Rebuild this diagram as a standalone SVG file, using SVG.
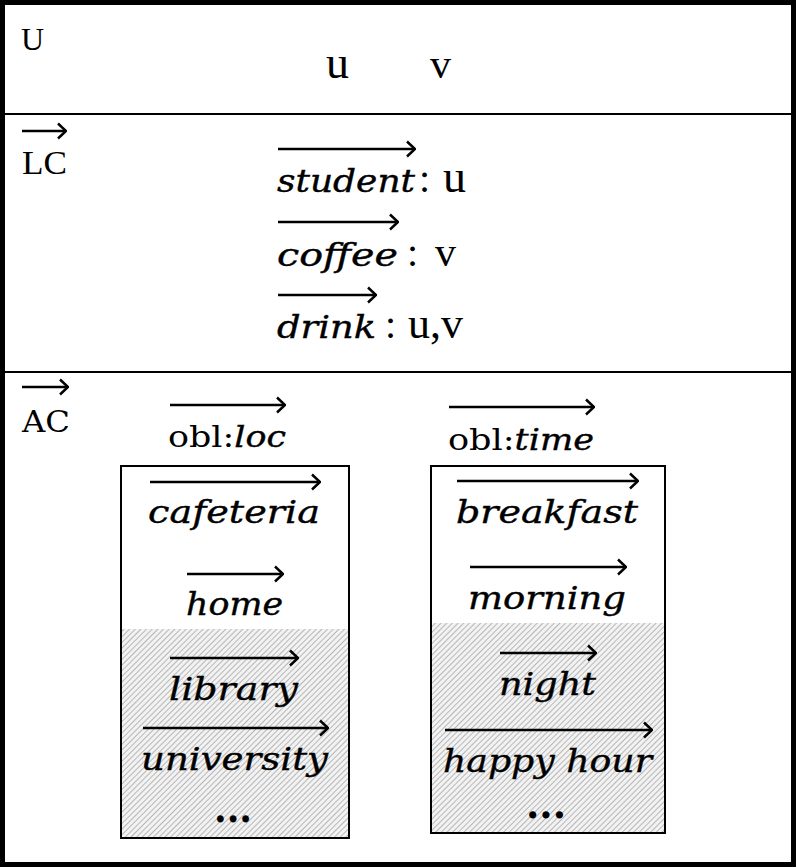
<svg xmlns="http://www.w3.org/2000/svg" width="797" height="868" viewBox="0 0 797 868">
<style>
.ser{font-family:"Liberation Serif","Times New Roman",serif;fill:#000}
.mi{font-family:"DejaVu Serif","Liberation Serif",serif;font-style:italic;fill:#000;stroke:#000;stroke-width:0.4}
.up{font-family:"DejaVu Serif","Liberation Serif",serif;fill:#000}
.dots{font-family:"DejaVu Serif",serif;font-weight:bold;fill:#000}
.arr{stroke:#000;stroke-width:2.5;fill:none;marker-end:url(#ah)}
.box{fill:#fff;stroke:#000;stroke-width:2}
</style>
<defs>
<marker id="ah" viewBox="0 0 12 18" refX="11" refY="9" markerWidth="12" markerHeight="18" markerUnits="userSpaceOnUse" orient="auto">
<path d="M3,1.5 L11,9 L3,16.5" fill="none" stroke="#000" stroke-width="2.5"/>
</marker>
<pattern id="hatch" width="4" height="4" patternUnits="userSpaceOnUse" patternTransform="rotate(45)">
<rect width="4" height="4" fill="#f2f2f2"/>
<line x1="0" y1="0" x2="0" y2="4" stroke="#a8a8a8" stroke-width="1.6"/>
</pattern>
</defs>
<rect x="2.5" y="2.5" width="791" height="862" fill="#fff" stroke="#000" stroke-width="5"/>
<g id="dividers">
<line x1="5" y1="114" x2="791" y2="114" stroke="#000" stroke-width="2"/>
<line x1="5" y1="372" x2="791" y2="372" stroke="#000" stroke-width="2"/>
</g>
<g id="U-section">
<text class="ser" x="21" y="50" font-size="32">U</text>
<text class="ser" x="326" y="78" font-size="46">u</text>
<text class="ser" x="430" y="78" font-size="42">v</text>
</g>
<g id="LC-section">
<text class="ser" x="22" y="174" font-size="34" textLength="45" lengthAdjust="spacingAndGlyphs">LC</text>
<text class="mi" x="277" y="192" font-size="32" textLength="138" lengthAdjust="spacingAndGlyphs">student</text>
<text class="ser" x="419" y="192" font-size="40">:</text>
<text class="ser" x="443" y="192" font-size="46">u</text>
<text class="mi" x="277" y="266" font-size="32" textLength="121" lengthAdjust="spacingAndGlyphs">coffee</text>
<text class="ser" x="407" y="266" font-size="40">:</text>
<text class="ser" x="435" y="266" font-size="42">v</text>
<text class="mi" x="277" y="338" font-size="32" textLength="99" lengthAdjust="spacingAndGlyphs">drink</text>
<text class="ser" x="385" y="338" font-size="40">:</text>
<text class="ser" x="408" y="338" font-size="44">u,v</text>
</g>
<g id="AC-section">
<text class="up" x="22" y="432" font-size="30" textLength="48" lengthAdjust="spacingAndGlyphs">AC</text>
<text class="up" x="168" y="447" font-size="30" textLength="118" lengthAdjust="spacingAndGlyphs"><tspan>obl:</tspan><tspan class="mi">loc</tspan></text>
<text class="up" x="448" y="450" font-size="30" textLength="146" lengthAdjust="spacingAndGlyphs"><tspan>obl:</tspan><tspan class="mi">time</tspan></text>
</g>
<g id="loc-box">
<rect class="box" x="121" y="466" width="228" height="372"/>
<rect x="122" y="629" width="226" height="208" fill="url(#hatch)"/>
<text class="mi" x="148" y="523" font-size="32" textLength="172" lengthAdjust="spacingAndGlyphs">cafeteria</text>
<text class="mi" x="186" y="615" font-size="32" textLength="97" lengthAdjust="spacingAndGlyphs">home</text>
<text class="mi" x="169" y="700" font-size="32" textLength="129" lengthAdjust="spacingAndGlyphs">library</text>
<text class="mi" x="141" y="770" font-size="32" textLength="187" lengthAdjust="spacingAndGlyphs">university</text>
<text class="dots" x="214" y="822" font-size="40" textLength="38" lengthAdjust="spacingAndGlyphs">...</text>
</g>
<g id="time-box">
<rect class="box" x="431" y="466" width="234" height="367"/>
<rect x="432" y="623" width="232" height="209" fill="url(#hatch)"/>
<text class="mi" x="456" y="523" font-size="32" textLength="182" lengthAdjust="spacingAndGlyphs">breakfast</text>
<text class="mi" x="468" y="609" font-size="32" textLength="158" lengthAdjust="spacingAndGlyphs">morning</text>
<text class="mi" x="499" y="695" font-size="32" textLength="97" lengthAdjust="spacingAndGlyphs">night</text>
<text class="mi" x="443" y="772" font-size="32" textLength="209" lengthAdjust="spacingAndGlyphs">happy hour</text>
<text class="dots" x="526" y="818" font-size="40" textLength="40" lengthAdjust="spacingAndGlyphs">...</text>
</g>
<g id="connectors">
<line class="arr" x1="22" y1="131" x2="66" y2="131"/>
<line class="arr" x1="278" y1="149" x2="415" y2="149"/>
<line class="arr" x1="278" y1="222" x2="398" y2="222"/>
<line class="arr" x1="278" y1="295" x2="376" y2="295"/>
<line class="arr" x1="22" y1="387" x2="68" y2="387"/>
<line class="arr" x1="170" y1="405" x2="285" y2="405"/>
<line class="arr" x1="449" y1="407" x2="594" y2="407"/>
<line class="arr" x1="150" y1="482" x2="320" y2="482"/>
<line class="arr" x1="187" y1="574" x2="283" y2="574"/>
<line class="arr" x1="170" y1="658" x2="298" y2="658"/>
<line class="arr" x1="143" y1="728" x2="328" y2="728"/>
<line class="arr" x1="457" y1="481" x2="638" y2="481"/>
<line class="arr" x1="470" y1="567" x2="626" y2="567"/>
<line class="arr" x1="500" y1="653" x2="596" y2="653"/>
<line class="arr" x1="445" y1="730" x2="652" y2="730"/>
</g>
</svg>
